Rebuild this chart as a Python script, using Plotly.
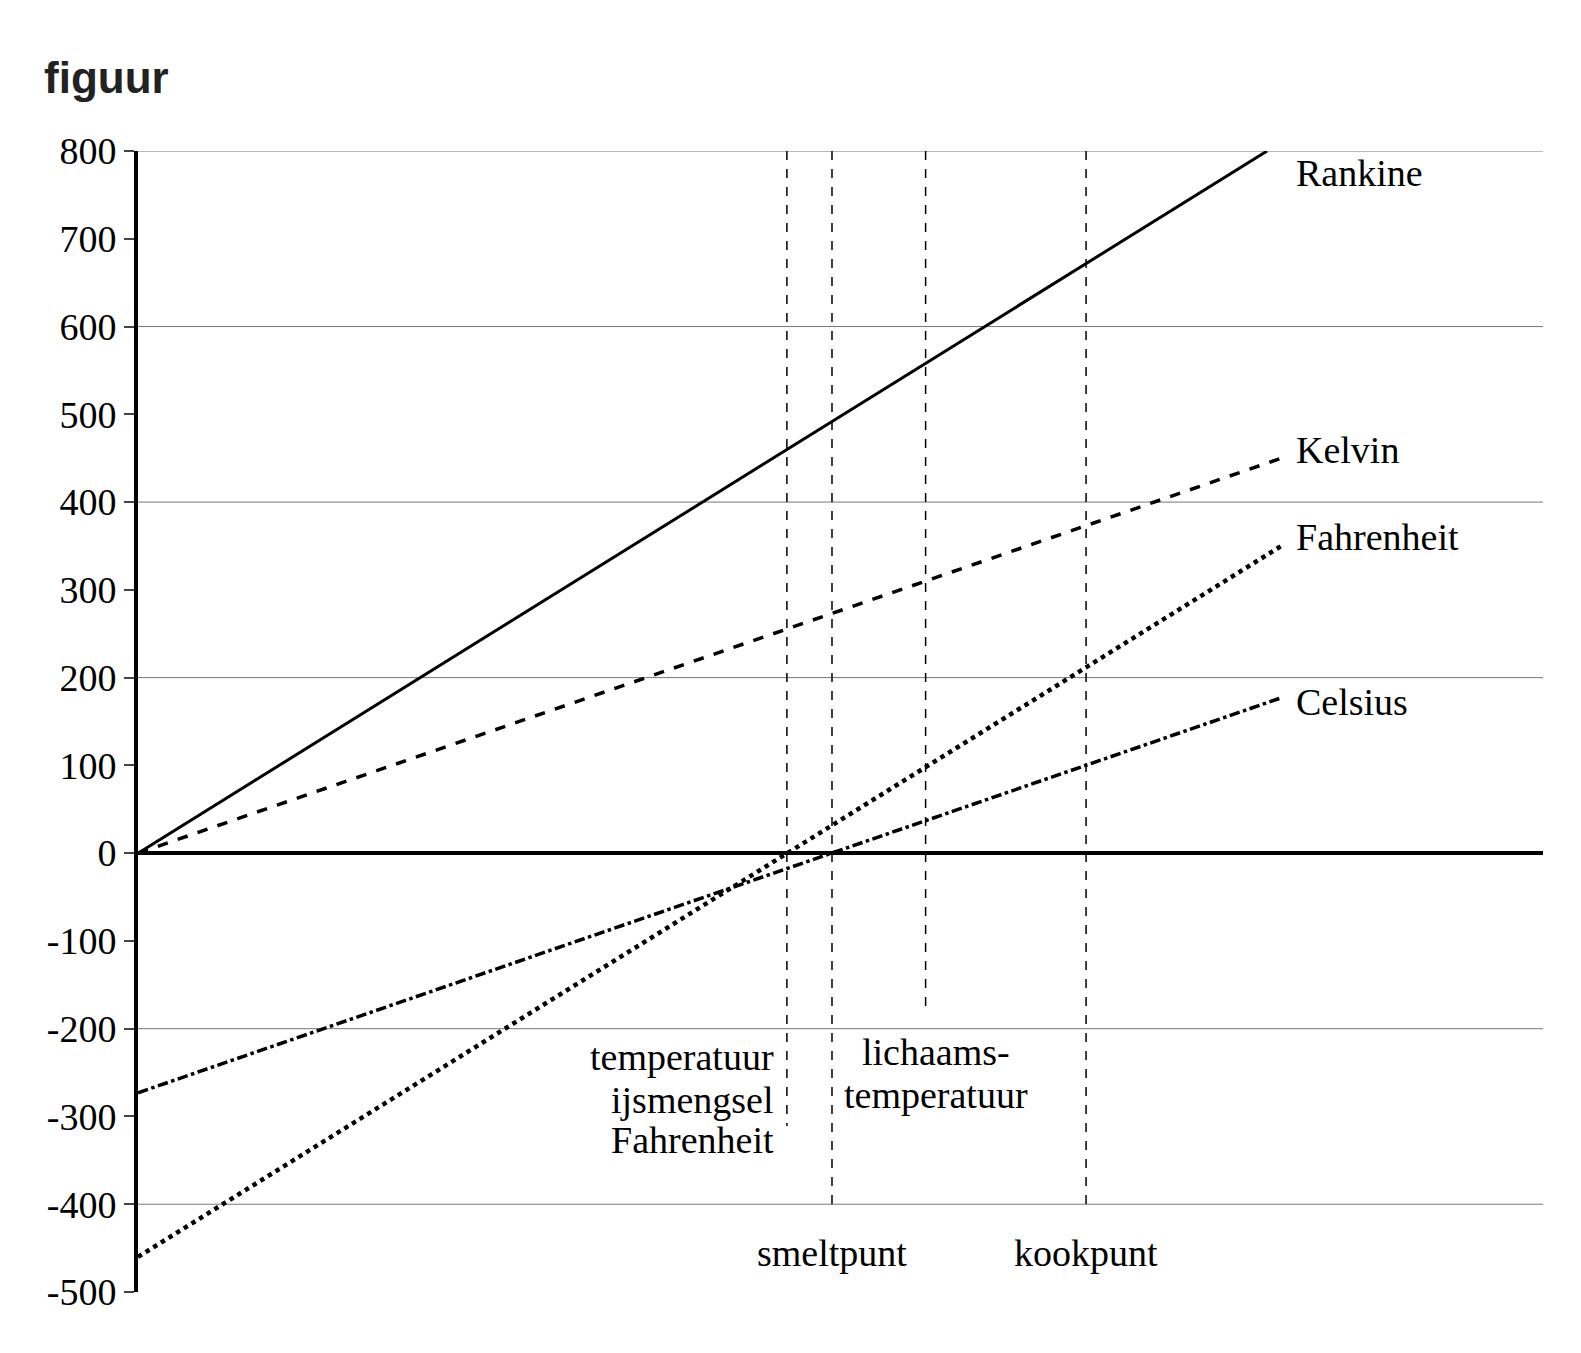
import plotly.graph_objects as go

# Lines: x in kelvin, y on each scale
kelvin_x = [0, 450]; kelvin_y = [0, 450]
rankine_x = [0, 444.4]; rankine_y = [0, 800]
celsius_x = [0, 450]; celsius_y = [-273, 177]
fahr_x = [0, 450]; fahr_y = [-460, 350]

# vertical marker lines (x in K, bottom y)
vlines_x = [255.4, 273.15, 310, 373.15]
vlines_bottom = [-311, -400, -177, -400]
grid_vals = [800, 600, 400, 200, -200, -400]
yticks = list(range(-500, 801, 100))
yticklabels = [str(v) for v in yticks]  # hyphen minus as in reference

F = "Liberation Serif"
fig = go.Figure()
for x, y, d, w in [(rankine_x, rankine_y, "solid", 3), (kelvin_x, kelvin_y, "dash", 3.5),
                   (fahr_x, fahr_y, "dot", 4.5), (celsius_x, celsius_y, "dashdot", 3.5)]:
    fig.add_trace(go.Scatter(x=x, y=y, mode="lines", line=dict(color="black", width=w, dash=d), showlegend=False))

shapes = []
for g in grid_vals:
    shapes.append(dict(type="line", xref="paper", x0=0, x1=1, y0=g, y1=g, line=dict(color="#777", width=1), layer="below"))
for vx, vb in zip(vlines_x, vlines_bottom):
    shapes.append(dict(type="line", x0=vx, x1=vx, y0=800, y1=vb, line=dict(color="black", width=1.5, dash="dash")))

ann = []
def A(x, ys, lines, xa="left", size=38):
    for y, t in zip(ys, lines):
        ann.append(dict(x=x, y=y, text=t, showarrow=False, xanchor=xa, yanchor="middle",
                        font=dict(family=F, size=size, color="black")))
A(455, [775], ["Rankine"])
A(455, [459], ["Kelvin"])
A(455, [360], ["Fahrenheit"])
A(455, [172], ["Celsius"])
A(251, [-232, -281, -327], ["temperatuur", "ijsmengsel", "Fahrenheit"], "right")
A(314, [-227, -275], ["lichaams-", "temperatuur"], "center")
A(273.15, [-455, -503], ["smeltpunt", "van water"], "center")
A(373.15, [-455, -503], ["kookpunt", "van water"], "center")
ann.append(dict(xref="paper", yref="paper", x=-0.068, y=1.064, xanchor="left", yanchor="middle", text="<b>figuur</b>",
                showarrow=False, font=dict(family="Liberation Sans", size=44, color="#222")))

fig.update_layout(
    width=1581, height=1353, plot_bgcolor="white", paper_bgcolor="white",
    margin=dict(l=130, r=46, t=143, b=69, autoexpand=False), shapes=shapes, annotations=ann,
    xaxis=dict(range=[0, 553], visible=False),
    yaxis=dict(range=[-500, 800], tickvals=yticks, ticktext=yticklabels, ticks="outside", ticklen=10, tickwidth=2,
               showgrid=False, showline=True, linewidth=4, linecolor="black", automargin=False,
               zeroline=True, zerolinewidth=4, zerolinecolor="black",
               tickfont=dict(family=F, size=38, color="black")),
)
fig.write_html("out.html")
